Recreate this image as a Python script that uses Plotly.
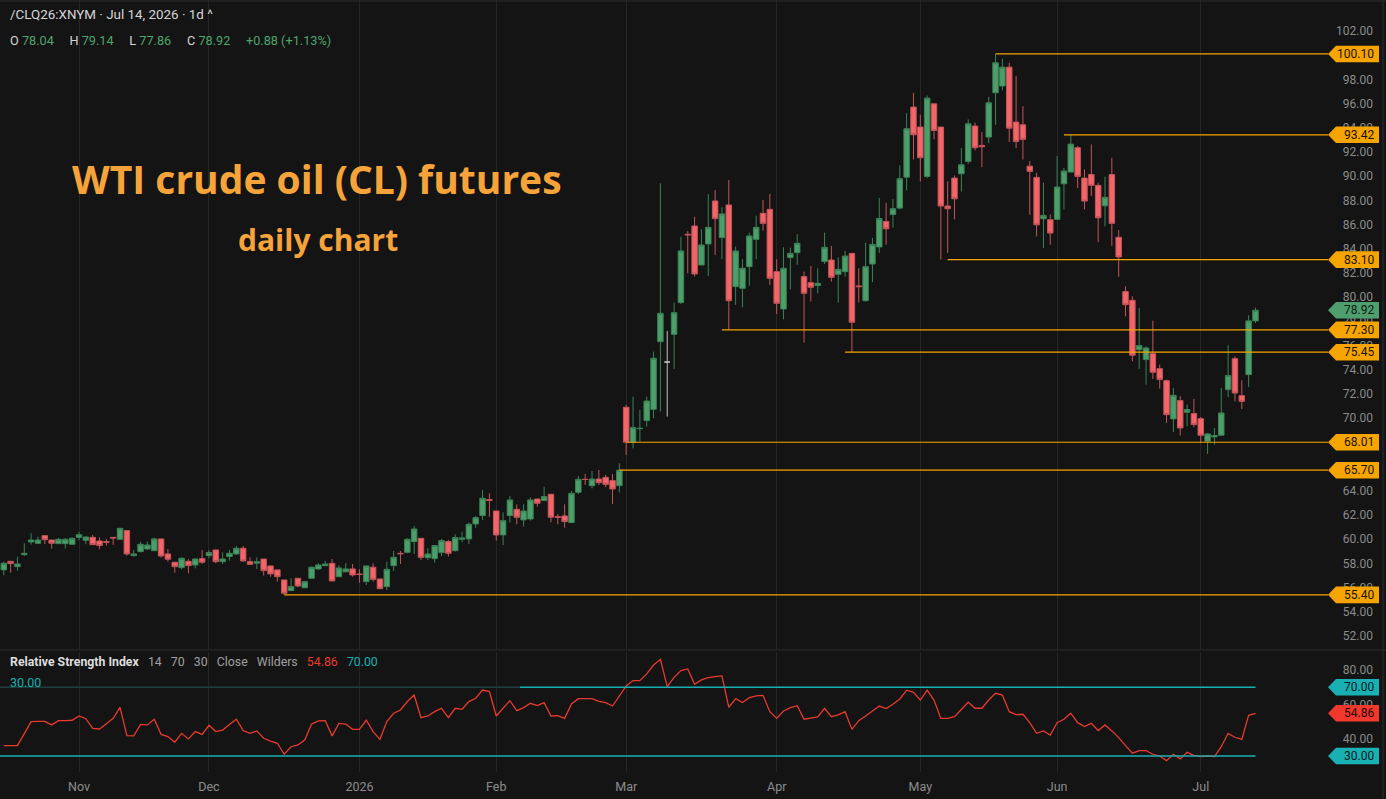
import pandas as pd
import plotly.graph_objects as go

# ---------------- data ----------------
HOLIDAYS = ["2025-11-27", "2025-12-25", "2026-01-01", "2026-01-19", "2026-02-16",
            "2026-04-03", "2026-05-25", "2026-06-19", "2026-07-03"]
dates = pd.bdate_range("2025-10-17", "2026-07-14", freq="C", holidays=HOLIDAYS)

opens = [57.46, 58.17, 57.73, 58.72, 59.77, 59.66, 60.29, 59.93, 59.63, 59.63,
         59.58, 60.15, 59.91, 60.15, 59.85, 59.80, 60.15, 59.99, 60.71, 58.64,
         58.97, 59.19, 59.05, 60.02, 58.78, 58.09, 57.65, 58.17, 57.87, 58.39,
         58.64, 59.11, 58.14, 58.56, 58.78, 59.25, 58.14, 58.01, 58.36, 57.79,
         57.46, 56.63, 55.75, 56.77, 55.99, 56.77, 57.54, 57.81, 58.00, 56.90,
         57.30, 57.54, 57.12, 56.49, 57.68, 56.71, 56.08, 57.81, 58.83, 58.91,
         59.80, 60.07, 58.47, 58.39, 58.89, 59.80, 59.05, 59.99, 60.02, 61.26,
         61.95, 63.27, 62.33, 60.35, 61.95, 62.47, 61.59, 61.67, 63.32, 63.19,
         63.71, 61.86, 61.92, 61.37, 63.87, 64.95, 64.42, 64.97, 65.11, 64.84,
         64.42, 70.90, 68.01, 69.13, 69.80, 70.73, 76.32, 74.64, 76.93, 79.55,
         85.20, 85.88, 82.66, 84.40, 87.95, 84.92, 87.62, 80.87, 80.73, 82.52,
         84.78, 86.93, 87.26, 82.11, 79.02, 83.27, 83.68, 81.70, 81.20, 80.96,
         82.94, 83.07, 81.89, 82.11, 83.62, 80.93, 79.71, 82.74, 84.15, 86.26,
         86.84, 87.36, 89.92, 95.71, 94.06, 89.98, 95.98, 94.06, 87.53, 89.84,
         90.20, 91.22, 94.14, 92.54, 93.23, 96.89, 97.45, 99.01, 94.47, 94.25,
         90.83, 89.90, 86.48, 86.40, 86.43, 89.37, 90.34, 92.35, 89.84, 90.14,
         89.24, 87.55, 90.13, 84.95, 80.46, 79.74, 75.66, 74.84, 75.33, 74.09,
         73.10, 69.94, 71.45, 70.49, 70.38, 69.96, 68.09, 68.45, 68.59, 72.36,
         74.92, 71.86, 73.60, 78.04]
highs = [58.14, 58.20, 58.56, 59.66, 60.49, 60.21, 60.29, 59.93, 60.10, 60.10,
         60.15, 60.60, 60.24, 60.35, 60.15, 60.02, 60.15, 60.90, 60.76, 59.11,
         59.80, 59.80, 60.13, 60.02, 59.19, 58.09, 58.50, 58.34, 58.42, 59.11,
         59.11, 59.11, 58.91, 59.11, 59.44, 59.44, 58.50, 58.50, 58.36, 57.79,
         57.46, 56.63, 56.77, 56.77, 56.55, 57.73, 58.01, 58.20, 58.36, 57.84,
         58.01, 57.95, 57.51, 57.79, 58.01, 56.71, 58.14, 59.02, 59.02, 60.07,
         61.09, 60.07, 59.25, 59.47, 60.02, 59.93, 60.40, 60.62, 61.37, 61.92,
         64.07, 63.79, 62.33, 62.22, 63.57, 62.88, 62.88, 63.46, 63.32, 64.34,
         63.71, 62.08, 62.88, 63.98, 65.22, 65.39, 65.64, 65.72, 65.31, 65.39,
         66.27, 71.09, 71.78, 70.68, 71.78, 75.50, 89.41, 77.21, 79.55, 85.00,
         85.47, 86.65, 85.61, 88.53, 88.86, 87.43, 89.69, 84.18, 83.13, 85.33,
         86.74, 88.03, 88.53, 83.13, 84.12, 84.09, 85.20, 82.11, 82.58, 82.39,
         85.33, 84.23, 83.29, 83.82, 83.62, 82.39, 84.51, 84.90, 88.20, 87.80,
         88.13, 90.89, 95.21, 96.89, 95.08, 96.67, 95.98, 94.06, 89.57, 90.06,
         92.32, 94.69, 94.41, 93.64, 96.54, 100.10, 99.70, 99.37, 98.27, 95.79,
         91.25, 90.28, 89.46, 86.84, 91.66, 90.69, 93.42, 92.49, 90.56, 92.62,
         89.46, 89.95, 91.52, 85.55, 80.90, 80.07, 79.11, 75.94, 78.06, 74.43,
         73.19, 72.50, 71.81, 71.12, 71.59, 70.10, 68.78, 69.19, 72.50, 76.02,
         75.11, 73.13, 78.50, 79.14]
lows = [57.02, 57.23, 57.40, 58.61, 59.55, 59.60, 59.60, 59.22, 59.60, 59.22,
        59.52, 59.91, 59.58, 59.55, 59.16, 59.47, 59.52, 59.99, 58.64, 58.56,
        58.91, 59.11, 59.05, 58.47, 58.14, 57.23, 57.51, 57.18, 57.59, 57.95,
        58.42, 58.01, 57.95, 58.23, 58.69, 58.14, 57.87, 57.51, 56.99, 56.90,
        56.49, 55.40, 55.75, 56.02, 55.94, 56.71, 57.46, 57.79, 56.52, 56.85,
        57.30, 56.90, 56.41, 56.21, 56.49, 55.91, 55.80, 57.37, 57.95, 58.83,
        58.78, 58.28, 58.28, 58.06, 58.61, 58.56, 58.97, 59.74, 59.60, 60.95,
        61.59, 61.86, 59.88, 59.52, 61.37, 61.23, 61.04, 61.53, 62.69, 63.19,
        61.39, 61.23, 60.95, 61.37, 63.71, 64.48, 64.20, 64.48, 64.29, 62.91,
        63.87, 66.96, 67.51, 68.06, 69.30, 69.99, 70.54, 70.13, 74.07, 79.44,
        81.97, 81.70, 82.66, 81.75, 83.49, 83.13, 77.30, 79.36, 79.16, 80.95,
        83.13, 85.50, 81.01, 78.61, 78.17, 80.65, 82.66, 76.24, 79.63, 80.32,
        82.74, 81.28, 79.55, 81.70, 75.45, 79.55, 79.63, 81.25, 83.64, 84.33,
        85.74, 87.25, 88.82, 91.38, 89.57, 89.84, 93.04, 83.10, 83.64, 86.43,
        88.74, 91.03, 92.13, 90.75, 92.73, 94.25, 97.09, 92.82, 92.32, 91.38,
        86.81, 85.02, 84.06, 84.33, 86.43, 87.25, 90.34, 89.02, 87.25, 88.35,
        84.55, 85.85, 84.25, 81.68, 78.42, 74.70, 74.07, 72.77, 73.24, 72.44,
        69.60, 68.86, 68.56, 69.33, 69.25, 67.95, 67.04, 67.81, 68.59, 71.75,
        71.39, 70.76, 72.58, 77.86]
closes = [58.01, 57.98, 57.95, 58.83, 59.93, 59.93, 59.96, 59.66, 59.99, 59.99,
          60.07, 60.37, 60.18, 59.55, 59.47, 59.75, 60.10, 60.90, 58.78, 58.78,
          59.58, 59.52, 60.02, 58.61, 58.34, 57.73, 58.42, 57.81, 58.36, 58.09,
          58.89, 58.14, 58.36, 58.83, 59.25, 58.20, 57.92, 58.14, 57.40, 57.13,
          56.90, 55.53, 56.08, 56.13, 56.49, 57.68, 57.87, 57.95, 56.55, 57.62,
          57.54, 57.04, 57.08, 57.79, 56.68, 55.91, 57.51, 58.50, 58.80, 59.99,
          60.84, 58.50, 58.78, 59.47, 59.88, 58.83, 60.13, 60.10, 61.23, 61.78,
          63.38, 63.20, 60.35, 61.53, 63.24, 61.81, 62.33, 63.24, 62.96, 63.52,
          61.81, 61.81, 61.45, 63.79, 64.95, 64.93, 64.97, 64.67, 64.53, 64.15,
          65.70, 68.01, 69.22, 69.16, 71.42, 74.95, 78.67, 74.64, 78.72, 83.82,
          85.15, 81.92, 84.31, 85.77, 86.49, 86.88, 79.71, 83.82, 82.39, 85.06,
          85.77, 86.10, 81.56, 79.49, 82.39, 83.62, 84.45, 80.32, 80.82, 81.15,
          84.12, 81.64, 82.30, 83.40, 77.92, 80.87, 82.52, 84.36, 86.50, 85.65,
          87.31, 89.79, 93.92, 93.42, 91.52, 96.45, 93.78, 87.53, 87.31, 88.13,
          90.94, 94.33, 92.35, 92.43, 96.07, 99.37, 99.01, 93.97, 92.87, 93.04,
          90.39, 85.98, 86.76, 85.30, 89.10, 90.42, 92.65, 89.98, 87.94, 89.24,
          86.56, 88.25, 86.10, 83.33, 79.38, 75.20, 76.00, 75.80, 73.79, 73.19,
          70.29, 71.89, 69.19, 70.71, 69.47, 68.59, 68.70, 68.56, 70.43, 73.52,
          72.08, 71.39, 78.04, 78.92]
rsi = [36.0, 36.0, 36.0, 43.0, 50.0, 50.2, 50.2, 48.1, 50.6, 50.6,
       50.8, 53.3, 51.7, 46.1, 45.7, 48.8, 51.9, 58.3, 41.8, 41.7,
       48.4, 48.1, 51.4, 42.6, 41.3, 38.0, 43.2, 39.9, 44.2, 42.6,
       47.9, 44.2, 45.1, 48.3, 51.4, 44.8, 43.2, 44.6, 40.3, 38.7,
       37.4, 31.0, 35.4, 36.4, 39.3, 48.6, 50.4, 50.6, 41.7, 49.0,
       48.6, 45.5, 45.5, 50.8, 44.2, 39.7, 50.0, 54.9, 56.8, 61.7,
       65.5, 52.3, 53.3, 55.8, 57.8, 52.3, 57.8, 57.2, 61.7, 63.6,
       68.4, 67.5, 53.3, 57.8, 62.2, 56.4, 58.2, 60.7, 59.3, 61.1,
       53.3, 53.5, 51.9, 60.3, 63.4, 63.4, 63.4, 61.8, 61.1, 59.1,
       64.6, 70.8, 73.9, 73.9, 77.8, 83.0, 86.3, 70.4, 75.8, 79.7,
       80.7, 71.7, 74.3, 75.6, 76.2, 76.6, 58.3, 63.4, 61.1, 64.0,
       65.0, 65.3, 55.8, 51.9, 56.2, 58.2, 59.3, 51.4, 52.1, 52.7,
       57.8, 52.9, 53.9, 55.8, 45.5, 50.6, 53.3, 56.4, 59.1, 57.6,
       60.1, 63.2, 68.3, 67.1, 62.6, 68.4, 62.6, 51.9, 51.9, 52.9,
       57.2, 61.3, 57.8, 57.8, 62.6, 66.5, 65.5, 55.8, 54.1, 54.3,
       49.4, 43.2, 44.6, 42.2, 49.4, 51.4, 54.9, 49.4, 47.1, 49.0,
       44.8, 48.1, 44.6, 40.7, 36.0, 31.6, 33.1, 33.1, 31.0, 30.0,
       27.3, 31.0, 28.3, 32.1, 30.4, 29.6, 30.0, 29.6, 35.4, 43.2,
       40.9, 39.7, 53.7, 54.86]

# horizontal levels: (price, date where the line starts)
levels = [100.10, 93.42, 83.10, 77.30, 75.45, 68.01, 65.70, 55.40]
level_start = ["2026-05-18", "2026-06-02", "2026-05-07", "2026-03-20",
               "2026-04-16", "2026-03-02", "2026-02-27", "2025-12-16"]
rsi_over, rsi_under = 70.0, 30.0
price_ticks = list(range(52, 103, 2))
rsi_ticks = [40, 60, 80]
symbol = "/CLQ26:XNYM"

# ---------------- style ----------------
W, H = 1386, 799
BG = "#141414"
ORANGE = "#f5a400"
GREEN_TXT = "#4fa56e"
UP_FILL, UP_LINE = "#4e9e6c", "#3a8456"
DN_FILL, DN_LINE = "#f2666a", "#c4555a"
TEAL = "#19b0b3"
RSI_RED = "#e83a2e"
GRID = "#262626"
TICK = "#8c8c8c"
FONT = "Roboto"

n = len(closes)
idx = list(range(n))
pos = {d.strftime("%Y-%m-%d"): i for i, d in enumerate(dates)}

# pixel geometry of the time axis
PX0, PXSTEP = 3.76, 6.84
PLOT_RIGHT = 1383


def px2x(px):
    return (px - PX0) / PXSTEP


def py(px):  # paper y from pixel
    return 1 - px / H


def pxx(px):
    return px / W


x_range = [px2x(0), px2x(PLOT_RIGHT)]
main_dom = [py(650), 1.0]
rsi_dom = [py(772), py(652)]
main_range = [50.84, 104.56]
rsi_range = [20.67, 90.56]

# month ticks
tick_idx, tick_txt = [], []
for k in range(1, n):
    if dates[k].month != dates[k - 1].month:
        tick_idx.append(k)
        tick_txt.append(str(dates[k].year) if dates[k].month == 1 else dates[k].strftime("%b"))
next_month = dates[-1] + pd.offsets.MonthBegin(1)
tick_idx.append(idx[-1] + (next_month - dates[-1]).days)
tick_txt.append(next_month.strftime("%b"))

# price tick labels that sit completely under a tag are not drawn (as in the original)
tag_vals = levels + [closes[-1]]
ptick_vals = [v for v in price_ticks if min(abs(v - t) for t in tag_vals) > 0.4]

fig = go.Figure()

# split the candles: normal ones and the unchanged (open == close) one
norm = [i for i in idx if opens[i] != closes[i]]
flat = [i for i in idx if opens[i] == closes[i]]

fig.add_trace(go.Candlestick(
    x=norm, open=[opens[i] for i in norm], high=[highs[i] for i in norm],
    low=[lows[i] for i in norm], close=[closes[i] for i in norm],
    increasing=dict(fillcolor=UP_FILL, line=dict(color=UP_LINE, width=1)),
    decreasing=dict(fillcolor=DN_FILL, line=dict(color=DN_LINE, width=1)),
    xaxis="x", yaxis="y", showlegend=False, hoverinfo="skip"))
if flat:
    fig.add_trace(go.Candlestick(
        x=flat, open=[opens[i] for i in flat], high=[highs[i] for i in flat],
        low=[lows[i] for i in flat], close=[closes[i] for i in flat],
        increasing=dict(fillcolor="#d0d0d0", line=dict(color="#bdbdbd", width=1)),
        decreasing=dict(fillcolor="#d0d0d0", line=dict(color="#bdbdbd", width=1)),
        xaxis="x", yaxis="y", showlegend=False, hoverinfo="skip"))

# RSI
fig.add_trace(go.Scatter(x=idx, y=rsi, mode="lines", line=dict(color=RSI_RED, width=1.3),
                         xaxis="x2", yaxis="y2", showlegend=False, hoverinfo="skip"))

shapes = []
annots = []

# RSI bands
split_x = px2x(520)
shapes.append(dict(type="line", xref="x2", yref="y2", x0=x_range[0], x1=split_x,
                   y0=rsi_over, y1=rsi_over, line=dict(color="#1f4041", width=1.5)))
shapes.append(dict(type="line", xref="x2", yref="y2", x0=split_x, x1=idx[-1],
                   y0=rsi_over, y1=rsi_over, line=dict(color=TEAL, width=1.5)))
shapes.append(dict(type="line", xref="x2", yref="y2", x0=x_range[0], x1=idx[-1],
                   y0=rsi_under, y1=rsi_under, line=dict(color=TEAL, width=1.5)))

# price levels
line_end = px2x(1328)
for lv, d0 in zip(levels, level_start):
    shapes.append(dict(type="line", xref="x", yref="y", x0=pos[d0], x1=line_end,
                       y0=lv, y1=lv, line=dict(color=ORANGE, width=1.2), layer="above"))

# tags on the price / rsi axes
main_ppu = 650 / (main_range[1] - main_range[0])
rsi_ppu = 120 / (rsi_range[1] - rsi_range[0])


def tag(val, yref, ppu, bg, fg, text):
    h = 8.3 / ppu
    xa, xb, xc = pxx(1328), pxx(1336), pxx(1379)
    path = (f"M {xa},{val} L {xb},{val + h} L {xc},{val + h} "
            f"L {xc},{val - h} L {xb},{val - h} Z")
    shapes.append(dict(type="path", xref="paper", yref=yref, path=path,
                       fillcolor=bg, line=dict(width=0), layer="above"))
    annots.append(dict(x=pxx(1376), y=val, xref="paper", yref=yref, text=text,
                       showarrow=False, xanchor="right", yanchor="middle",
                       font=dict(family=FONT, size=12, color=fg)))


for lv in levels:
    tag(lv, "y", main_ppu, ORANGE, "#1a1206", f"{lv:.2f}")
tag(closes[-1], "y", main_ppu, "#4f9f6e", "#0c1a10", f"{closes[-1]:.2f}")
tag(rsi_over, "y2", rsi_ppu, TEAL, "#06191a", f"{rsi_over:.2f}")
tag(rsi[-1], "y2", rsi_ppu, "#f0382c", "#2a0806", f"{rsi[-1]:.2f}")
tag(rsi_under, "y2", rsi_ppu, TEAL, "#06191a", f"{rsi_under:.2f}")

# frame lines
shapes.append(dict(type="line", xref="paper", yref="paper", x0=0, x1=1, y0=py(650), y1=py(650),
                   line=dict(color="#2c2c2c", width=1)))
shapes.append(dict(type="line", xref="paper", yref="paper", x0=0, x1=1, y0=py(1), y1=py(1),
                   line=dict(color="#2c2c2c", width=1)))
shapes.append(dict(type="line", xref="paper", yref="paper", x0=pxx(PLOT_RIGHT), x1=pxx(PLOT_RIGHT),
                   y0=0, y1=1, line=dict(color="#2c2c2c", width=1)))

# header texts
chg = closes[-1] - closes[-2]
pct = chg / closes[-2] * 100
L = "#d6d6d6"
sp = "\u00a0" * 5
hdr2 = (f"<span style='color:{L}'>O</span> <span style='color:{GREEN_TXT}'>{opens[-1]:.2f}</span>{sp}"
        f"<span style='color:{L}'>H</span> <span style='color:{GREEN_TXT}'>{highs[-1]:.2f}</span>{sp}"
        f"<span style='color:{L}'>L</span> <span style='color:{GREEN_TXT}'>{lows[-1]:.2f}</span>{sp}"
        f"<span style='color:{L}'>C</span> <span style='color:{GREEN_TXT}'>{closes[-1]:.2f}</span>{sp}"
        f"<span style='color:{GREEN_TXT}'>{chg:+.2f} ({pct:+.2f}%)</span>")
last_day = f"{dates[-1].strftime('%b')} {dates[-1].day}, {dates[-1].year}"
annots.append(dict(x=pxx(8), y=py(14), xref="paper", yref="paper", xanchor="left", yanchor="middle",
                   text=f"{symbol} · {last_day} · 1d ^", showarrow=False,
                   font=dict(family=FONT, size=13.4, color=L)))
annots.append(dict(x=pxx(8), y=py(40), xref="paper", yref="paper", xanchor="left", yanchor="middle",
                   text=hdr2, showarrow=False, font=dict(family=FONT, size=12.7, color=L)))

# title
annots.append(dict(x=pxx(317), y=py(178), xref="paper", yref="paper", xanchor="center", yanchor="middle",
                   text="<b>WTI crude oil (CL) futures</b>", showarrow=False,
                   font=dict(family="Open Sans", size=39, color="#f6a43a")))
annots.append(dict(x=pxx(318), y=py(239), xref="paper", yref="paper", xanchor="center", yanchor="middle",
                   text="<b>daily chart</b>", showarrow=False,
                   font=dict(family="Open Sans", size=30, color="#f6a43a")))

# RSI header
gsp = "\u00a0" * 3
rsi_hdr = (f"<b><span style='color:#dedede'>Relative Strength Index</span></b>{gsp}"
           f"<span style='color:#a0a0a0'>14{gsp}70{gsp}30{gsp}Close{gsp}Wilders</span>{gsp}"
           f"<span style='color:{RSI_RED}'>{rsi[-1]:.2f}</span>{gsp}"
           f"<span style='color:{TEAL}'>{rsi_over:.2f}</span>")
annots.append(dict(x=pxx(8), y=py(662), xref="paper", yref="paper", xanchor="left", yanchor="middle",
                   text=rsi_hdr, showarrow=False, font=dict(family=FONT, size=12.3, color="#a0a0a0")))
annots.append(dict(x=pxx(8), y=py(682), xref="paper", yref="paper", xanchor="left", yanchor="middle",
                   text=f"{rsi_under:.2f}", showarrow=False, font=dict(family=FONT, size=12.5, color=TEAL)))

axis_common = dict(showline=False, zeroline=False, ticks="", fixedrange=True)
fig.update_layout(
    width=W, height=H, margin=dict(l=0, r=0, t=0, b=0),
    paper_bgcolor=BG, plot_bgcolor=BG, showlegend=False,
    boxgap=0.2, boxgroupgap=0.0,
    font=dict(family=FONT, color=TICK, size=12),
    xaxis=dict(domain=[0, pxx(PLOT_RIGHT)], range=x_range, anchor="y",
               tickvals=tick_idx, ticktext=tick_txt, showticklabels=False,
               showgrid=True, gridcolor=GRID, gridwidth=1,
               rangeslider=dict(visible=False), **axis_common),
    xaxis2=dict(domain=[0, pxx(PLOT_RIGHT)], range=x_range, anchor="y2", matches="x",
                tickvals=tick_idx, ticktext=tick_txt, showticklabels=True,
                ticklabelstandoff=5,
                tickfont=dict(family=FONT, size=12.5, color=TICK),
                showgrid=True, gridcolor=GRID, gridwidth=1, **axis_common),
    yaxis=dict(domain=main_dom, range=main_range, anchor="x", side="right",
               tickvals=ptick_vals, ticktext=[f"{v:.2f}" for v in ptick_vals],
               ticklabelposition="inside", ticklabelstandoff=7,
               tickfont=dict(family=FONT, size=12, color=TICK),
               showgrid=False, **axis_common),
    yaxis2=dict(domain=rsi_dom, range=rsi_range, anchor="x2", side="right",
                tickvals=rsi_ticks, ticktext=[f"{v:.2f}" for v in rsi_ticks],
                ticklabelposition="inside", ticklabelstandoff=7,
                tickfont=dict(family=FONT, size=12, color=TICK),
                showgrid=False, **axis_common),
    shapes=shapes, annotations=annots,
)

fig.write_html("out.html", config={"displayModeBar": False})
